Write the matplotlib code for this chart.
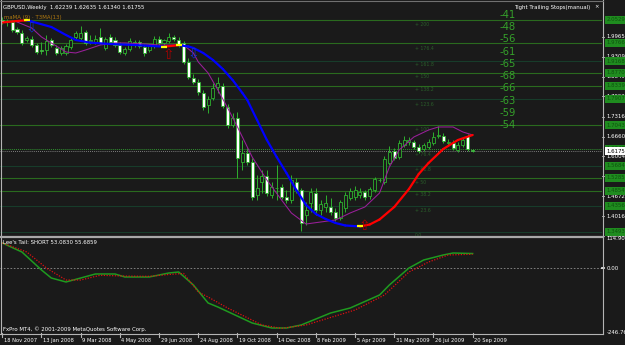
import numpy as np
import matplotlib
matplotlib.use('Agg')
from matplotlib import pyplot as plt
from matplotlib.transforms import blended_transform_factory

# weekly GBPUSD candles, week 0 = 18 Nov 2007 ... week 96 = 20 Sep 2009
opens = [2.0529, 2.0463, 2.0463, 2.0231, 2.0098, 1.9865, 1.9899, 1.9699, 1.9534, 1.9534,
         1.9865, 1.9600, 1.9434, 1.9434, 1.9633, 1.9965, 1.9932, 2.0131, 1.9832, 1.9799,
         1.9965, 1.9600, 1.9965, 1.9865, 1.9699, 1.9434, 1.9567, 1.9699, 1.9799, 1.9633,
         1.9534, 1.9666, 1.9899, 1.9766, 1.9832, 1.9965, 1.9865, 1.9766, 1.9135, 1.8604,
         1.8471, 1.8106, 1.7708, 1.7940, 1.8305, 1.8339, 1.7642, 1.7044, 1.7277, 1.5816,
         1.6115, 1.5816, 1.4721, 1.5152, 1.5352, 1.4721, 1.4953, 1.4987, 1.4655, 1.4555,
         1.5152, 1.4887, 1.4057, 1.4455, 1.4787, 1.4223, 1.4323, 1.4323, 1.4157, 1.3958,
         1.4290, 1.4621, 1.4655, 1.4721, 1.4821, 1.4688, 1.4887, 1.5219, 1.5152, 1.5783,
         1.6181, 1.5982, 1.6380, 1.6480, 1.6480, 1.6314, 1.6248, 1.6314, 1.6447, 1.6679,
         1.6679, 1.6447, 1.6447, 1.6215, 1.6380, 1.6679, 1.62239]
highs = [2.0629, 2.0562, 2.0529, 2.0297, 2.0197, 1.9998, 1.9998, 1.9766, 1.9799, 2.0031,
         1.9932, 1.9699, 1.9666, 1.9733, 1.9932, 2.0164, 2.0330, 2.0197, 2.0031, 2.0031,
         2.0264, 1.9965, 2.0065, 1.9965, 1.9799, 1.9633, 1.9932, 1.9865, 1.9865, 1.9733,
         1.9733, 1.9998, 1.9998, 1.9899, 2.0098, 2.0031, 1.9965, 1.9832, 1.9268, 1.8737,
         1.8571, 1.8206, 1.8007, 1.8438, 1.8637, 1.8438, 1.7741, 1.7443, 1.7476, 1.6546,
         1.6281, 1.5949, 1.5385, 1.5551, 1.5551, 1.5152, 1.5717, 1.5086, 1.4887, 1.5385,
         1.5285, 1.4953, 1.4489, 1.4953, 1.4953, 1.4555, 1.4721, 1.4621, 1.4290, 1.4555,
         1.4821, 1.4953, 1.5020, 1.4953, 1.4887, 1.4987, 1.5318, 1.5285, 1.6015, 1.6347,
         1.6281, 1.6546, 1.6679, 1.6646, 1.6546, 1.6414, 1.6447, 1.6580, 1.6812, 1.7011,
         1.6779, 1.6580, 1.6546, 1.6480, 1.6613, 1.6746, 1.62635]
lows = [2.0396, 2.0330, 2.0131, 2.0065, 1.9699, 1.9799, 1.9633, 1.9401, 1.9401, 1.9368,
        1.9633, 1.9368, 1.9368, 1.9368, 1.9567, 1.9899, 1.9865, 1.9699, 1.9733, 1.9733,
        1.9733, 1.9534, 1.9766, 1.9633, 1.9401, 1.9368, 1.9500, 1.9633, 1.9600, 1.9334,
        1.9467, 1.9600, 1.9699, 1.9699, 1.9766, 1.9832, 1.9633, 1.9069, 1.8571, 1.8405,
        1.8040, 1.7542, 1.7443, 1.7874, 1.8106, 1.7609, 1.6945, 1.6978, 1.5285, 1.5551,
        1.5717, 1.4555, 1.4555, 1.4787, 1.4688, 1.4621, 1.4555, 1.4588, 1.4455, 1.4455,
        1.4787, 1.3526, 1.3725, 1.4157, 1.4057, 1.4057, 1.4157, 1.4057, 1.3858, 1.3891,
        1.4157, 1.4555, 1.4555, 1.4621, 1.4555, 1.4588, 1.4821, 1.5152, 1.5086, 1.5717,
        1.5883, 1.5916, 1.6314, 1.6380, 1.6248, 1.6115, 1.6181, 1.6248, 1.6380, 1.6613,
        1.6447, 1.6347, 1.6215, 1.6148, 1.6314, 1.6181, 1.61340]
closes = [2.0463, 2.0496, 2.0197, 2.0131, 1.9766, 1.9932, 1.9699, 1.9467, 1.9500, 1.9832,
          1.9699, 1.9434, 1.9600, 1.9666, 1.9865, 2.0098, 2.0098, 1.9766, 1.9865, 1.9899,
          1.9766, 1.9899, 1.9799, 1.9699, 1.9467, 1.9567, 1.9832, 1.9799, 1.9666, 1.9434,
          1.9666, 1.9899, 1.9766, 1.9865, 1.9965, 1.9899, 1.9699, 1.9135, 1.8637, 1.8471,
          1.8140, 1.7642, 1.7907, 1.8272, 1.8438, 1.7675, 1.7044, 1.7277, 1.5949, 1.6115,
          1.5816, 1.4655, 1.4953, 1.5352, 1.4787, 1.4987, 1.4950, 1.4655, 1.4555, 1.5219,
          1.4887, 1.3792, 1.4223, 1.4821, 1.4223, 1.4422, 1.4455, 1.4157, 1.3958, 1.4489,
          1.4721, 1.4854, 1.4887, 1.4821, 1.4655, 1.4920, 1.5252, 1.5225, 1.5916, 1.6148,
          1.5949, 1.6447, 1.6546, 1.6546, 1.6314, 1.6181, 1.6380, 1.6480, 1.6646, 1.6712,
          1.6513, 1.6480, 1.6281, 1.6380, 1.6546, 1.6248, 1.61755]

# T3MA(13) line (blue falling / red rising)
tma_weeks = [0, 3, 5, 6, 10, 13, 15, 18, 22, 27, 33, 36, 38, 39, 41, 43, 45, 47, 49, 50,
             52, 54, 56, 58, 60, 62, 64, 66, 68, 70, 73, 75, 77, 80, 83, 85, 87, 90, 93, 96]
tma_vals = [2.0446, 2.0496, 2.0519, 2.0479, 2.0297, 2.0031, 1.9865, 1.9776, 1.9733, 1.9699,
            1.9643, 1.9693, 1.9650, 1.9600, 1.9434, 1.9202, 1.8903, 1.8538, 1.8106, 1.7874,
            1.7210, 1.6546, 1.5982, 1.5451, 1.4887, 1.4389, 1.4090, 1.3924, 1.3792, 1.3709,
            1.3676, 1.3742, 1.3908, 1.4323, 1.4920, 1.5418, 1.5783, 1.6248, 1.6546, 1.6712]

# MA(9) line (purple)
ma_weeks = [3, 6, 8, 10, 13, 15, 17, 20, 23, 25, 29, 32, 34, 37, 39, 40, 42, 44, 46, 48,
            51, 54, 57, 59, 62, 65, 68, 71, 74, 77, 79, 81, 84, 87, 89, 92, 94, 96]
ma_vals = [2.0463, 2.0264, 1.9965, 1.9766, 1.9467, 1.9434, 1.9534, 1.9699, 1.9766, 1.9766,
           1.9733, 1.9699, 1.9699, 1.9699, 1.9434, 1.9135, 1.8770, 1.8206, 1.7609, 1.6978,
           1.5982, 1.5219, 1.4555, 1.4124, 1.3758, 1.3825, 1.3891, 1.4124, 1.4323, 1.4787,
           1.5650, 1.6215, 1.6646, 1.6878, 1.6978, 1.6978, 1.6812, 1.6712]

# signal arrows
up_weeks, up_prices = [34, 74], [1.9368, 1.3688]
down_weeks, down_prices = [6, 39], [2.0280, 1.9417]

# tight trailing stop levels
stop_levels = [2.0529, 1.9766, 1.9168, 1.8770, 1.8339, 1.7907, 1.70430, 1.6248,
               1.5684, 1.5285, 1.4854, 1.4356, 1.3493]
stop_kind = ['b', 'b', 'd', 'b', 'b', 'd', 'b', 'dot', 'd', 'b', 'b', 'd', 'd']
stop_pips = ['-41', '-48', '-56', '-61', '-65', '-68', '-66', '-63', '-59', '-54']

fib_levels = [200, 176.4, 161.8, 150, 138.2, 123.6, 100, 76.4, 61.8, 50.0, 38.2, 23.6, 0.0]
fib_p0, fib_p100 = 1.3393, 1.6893

price_ticks = [1.99650, 1.93090, 1.86490, 1.79930, 1.73165, 1.66605, 1.60045, 1.53390,
               1.46720, 1.40160, 1.33600]
last_price = 1.61755

# Lee's Tail indicator
tail_g_weeks = [0, 4, 8, 10, 13, 16, 19, 23, 25, 30, 34, 36, 39, 42, 44, 51, 55, 58, 61, 67,
                71, 77, 79, 83, 86, 90, 92, 96]
tail_g_vals = [95.9, 61.6, -6.9, -37.4, -52.6, -37.4, -22.1, -22.1, -33.5, -33.5, -18.3, -14.5,
               -64.0, -132.5, -147.8, -208.7, -227.7, -227.7, -216.3, -170.6, -151.6, -102.1,
               -64.0, 0.7, 31.2, 50.2, 57.8, 55.7]
tail_r_weeks = [0, 5, 9, 13, 16, 20, 25, 30, 34, 37, 40, 42, 46, 53, 57, 62, 72, 78, 83, 87, 91, 96]
tail_r_vals = [95.9, 61.6, 0.7, -45.0, -45.0, -27.0, -30.0, -31.0, -24.0, -20.0, -90.7, -109.7,
               -151.6, -216.3, -229.0, -216.3, -159.2, -102.1, -14.5, 23.5, 50.2, 53.1]
tail_max, tail_min = 114.9064, -246.763

date_weeks = [0, 8, 16, 24, 32, 40, 48, 56, 64, 72, 80, 88, 96]
date_labels = ['18 Nov 2007', '13 Jan 2008', '9 Mar 2008', '4 May 2008', '29 Jun 2008',
               '24 Aug 2008', '19 Oct 2008', '14 Dec 2008', '8 Feb 2009', '5 Apr 2009',
               '31 May 2009', '26 Jul 2009', '20 Sep 2009']

BG = '#1a1a1a'
CANDLE = '#2eb02e'
W, H = 625, 345
FS = 3.9

plt.rcParams['font.family'] = 'DejaVu Sans'
fig = plt.figure(figsize=(W / 100, H / 100), dpi=100, facecolor=BG)

def fx(px):
    return px / W

def fy(py):
    return 1 - py / H

xlim = (-0.47, 122.4)
ax = fig.add_axes([0, fy(235), fx(602), (235 - 3) / H])
ax.set_xlim(*xlim)
ax.set_ylim(1.3393, 2.1093)
ax.set_axis_off()

# stop lines
for lev, kind in zip(stop_levels, stop_kind):
    if kind == 'b':
        ax.axhline(lev, color='#2a6a1e', lw=0.8, zorder=1)
    elif kind == 'd':
        ax.axhline(lev, color='#173c2a', lw=0.8, zorder=1)
    else:
        ax.axhline(lev, color='#2f8f2f', lw=0.7, ls=(0, (1, 1)), zorder=1)
ax.axhline(last_price, color='#a0a0a0', lw=0.6, ls=(0, (1, 1.5)), zorder=1)

# fib labels
for lv in fib_levels:
    p = fib_p0 + lv / 100 * (fib_p100 - fib_p0)
    txt = '0.0' if lv == 0 else '+ %g' % lv
    ax.text(84.2, p, txt, color='#2a5e2a', fontsize=3.3, va='center', ha='left', zorder=1)

# pip numbers
pip_y = np.linspace(2.0695, 1.7044, len(stop_pips))
for s, yv in zip(stop_pips, pip_y):
    ax.text(103.2, yv, s, color='#35a02a', fontsize=7.2, ha='center', va='center', zorder=1)

# candles
for i in range(len(opens)):
    o, h, l, c = opens[i], highs[i], lows[i], closes[i]
    ax.vlines(i, l, h, color=CANDLE, lw=0.7, zorder=3)
    bottom = min(o, c)
    height = max(abs(c - o), 0.0012)
    face = 'white' if c < o else BG
    ax.bar(i, height, 0.62, bottom, color=face, edgecolor=CANDLE, lw=0.6, zorder=4)

# purple MA
ax.plot(ma_weeks, ma_vals, color='#9a1f9a', lw=0.75, zorder=5)

# T3MA coloured by direction
for k in range(len(tma_weeks) - 1):
    col = '#ff0000' if tma_vals[k + 1] > tma_vals[k] else '#0000ff'
    ax.plot(tma_weeks[k:k + 2], tma_vals[k:k + 2], color=col, lw=1.6,
            solid_capstyle='round', zorder=6)
for k in range(1, len(tma_weeks) - 1):
    if (tma_vals[k] - tma_vals[k - 1]) * (tma_vals[k + 1] - tma_vals[k]) < 0:
        ax.plot(tma_weeks[k], tma_vals[k], marker='_', ms=5, mew=1.6, color='#ffff00', zorder=7)

for w, p in zip(up_weeks, up_prices):
    ax.text(w, p, '\u21e7', color='#aa0000', fontsize=10, ha='center', va='center',
            zorder=8, clip_on=False)
for w, p in zip(down_weeks, down_prices):
    ax.text(w, p, '\u21e9', color='#1030d0', fontsize=10, ha='center', va='center', zorder=8)

# right price scale
tr = blended_transform_factory(ax.transAxes, ax.transData)
for p in price_ticks:
    ax.plot([1.0, 1.004], [p, p], color='#c0c0c0', lw=0.6, transform=tr, clip_on=False)
    ax.text(1.008, p, '%.5f' % p, color='white', fontsize=FS, va='center', ha='left',
            transform=tr, clip_on=False, zorder=2)
for lev in stop_levels:
    ax.text(1.007, lev, '%.5f' % lev, color='#0e520e', fontsize=FS, va='center', ha='left',
            transform=tr, clip_on=False, zorder=9,
            bbox=dict(boxstyle='square,pad=0.25', fc='#1f8c1f', ec='none'))
ax.text(1.007, last_price, '%.5f' % last_price, color='black', fontsize=FS, va='center',
        ha='left', transform=tr, clip_on=False, zorder=10,
        bbox=dict(boxstyle='square,pad=0.25', fc='white', ec='none'))

# indicator panel
ax2 = fig.add_axes([0, fy(333), fx(602), (333 - 238) / H])
ax2.set_xlim(*xlim)
ax2.set_ylim(tail_min, tail_max)
ax2.set_axis_off()
ax2.axhline(0, color='#909090', lw=0.6, ls=(0, (2, 2)))
ax2.plot(tail_g_weeks, tail_g_vals, color='#1f9a1f', lw=1.1, zorder=3)
ax2.plot(tail_r_weeks, tail_r_vals, color='#dd1010', lw=0.9, ls=(0, (1, 1.2)), zorder=4)
tr2 = blended_transform_factory(ax2.transAxes, ax2.transData)
for v, s in [(tail_max, '114.9064'), (0, '0.00'), (tail_min, '-246.763')]:
    ax2.text(1.008, v, s, color='white', fontsize=FS, va='center', ha='left',
             transform=tr2, clip_on=False)
ax2.plot([1.0, 1.004], [0, 0], color='white', lw=1.2, transform=tr2, clip_on=False)

# frame lines
line_kw = dict(transform=fig.transFigure, lw=0.8, color='#b4b4b4')
fig.add_artist(plt.Line2D([fx(602.5), fx(602.5)], [fy(0), fy(334)], **line_kw))
fig.add_artist(plt.Line2D([0, fx(602.5)], [fy(333.5), fy(333.5)], **line_kw))
fig.add_artist(plt.Line2D([fx(0.5), fx(0.5)], [fy(0), fy(334)], **line_kw))
fig.add_artist(plt.Line2D([0, fx(602.5)], [fy(1), fy(1)], transform=fig.transFigure,
                          lw=0.8, color='#707070'))
fig.add_artist(plt.Line2D([0, fx(602.5)], [fy(236.5), fy(236.5)], transform=fig.transFigure,
                          lw=1.6, color='#a8a8a8'))

# date axis
for w, s in zip(date_weeks, date_labels):
    xp = ax.transData.transform((w, 2.0))[0] / W
    fig.add_artist(plt.Line2D([xp, xp], [fy(333), fy(337)], **line_kw))
    fig.text(xp + fx(1.5), fy(340.5), s, color='white', fontsize=3.7, va='center', ha='left')

fig.text(fx(3), fy(7), 'GBPUSD,Weekly  1.62239 1.62635 1.61340 1.61755', color='white',
         fontsize=FS, va='center', ha='left')
fig.text(fx(4), fy(17), 'maMA (9) \u00b7 T3MA(13)', color='#b07a10', fontsize=FS,
         va='center', ha='left')
fig.text(fx(590), fy(7), 'Tight Trailing Stops(manual)', color='white', fontsize=FS,
         va='center', ha='right')
fig.text(fx(597), fy(7), '\u00d7', color='white', fontsize=FS, va='center', ha='center')
fig.text(fx(3), fy(243), "Lee's Tail: SHORT 53.0830 55.6859", color='white', fontsize=FS,
         va='center', ha='left')
fig.text(fx(3), fy(329), 'FxPro MT4, \u00a9 2001-2009 MetaQuotes Software Corp.', color='white',
         fontsize=FS, va='center', ha='left')

fig.savefig('out.png', dpi=100, facecolor=BG)
